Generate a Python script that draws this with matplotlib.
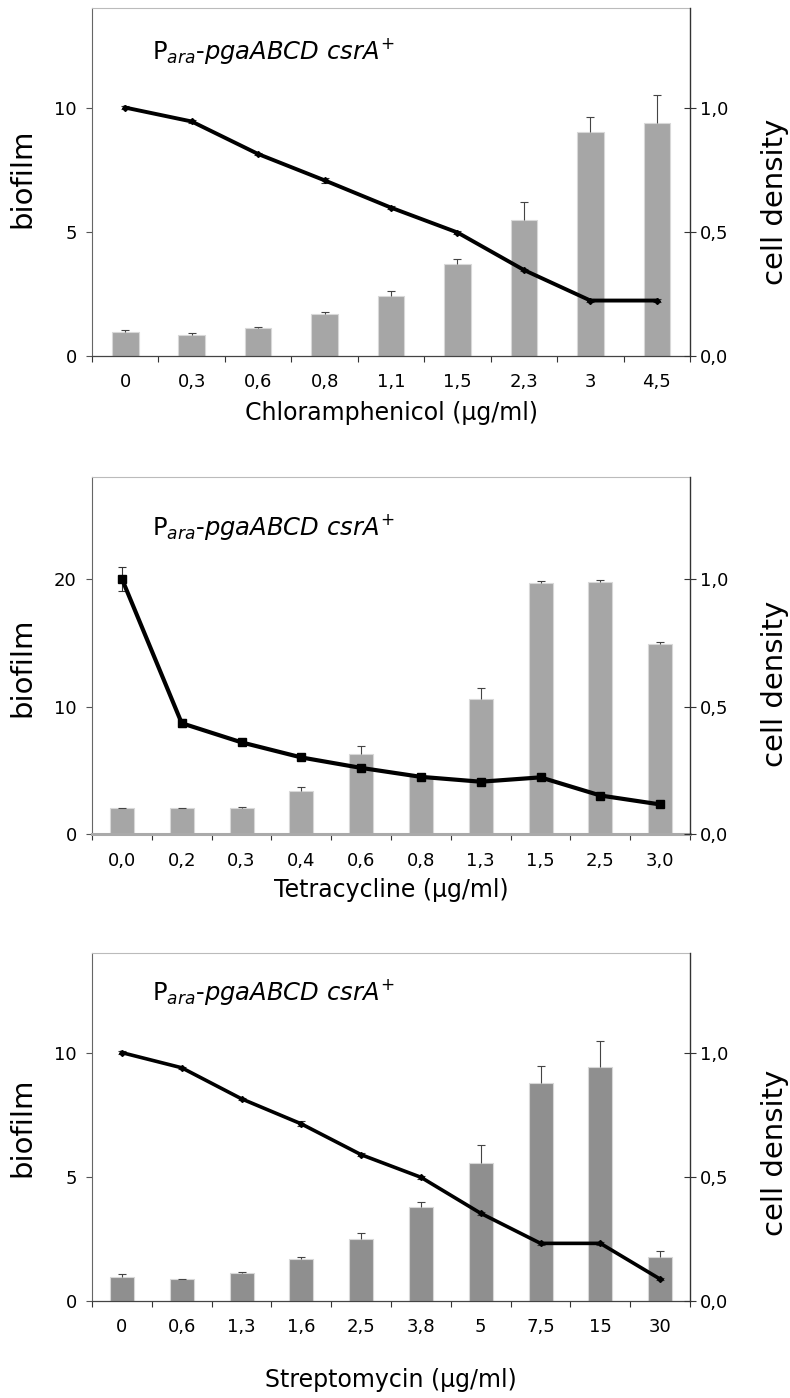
import matplotlib
matplotlib.use('Agg')
import matplotlib.pyplot as plt
import numpy as np

plt.rcParams['font.family'] = 'DejaVu Sans'
plt.rcParams['mathtext.fontset'] = 'dejavusans'

# panel 1 - chloramphenicol
chl_labels = ['0', '0,3', '0,6', '0,8', '1,1', '1,5', '2,3', '3', '4,5']
chl_biofilm = [0.95, 0.84, 1.13, 1.69, 2.41, 3.70, 5.48, 9.03, 9.37]
chl_biofilm_err = [0.08, 0.07, 0.02, 0.07, 0.20, 0.21, 0.73, 0.61, 1.13]
chl_density = [1.0, 0.944, 0.813, 0.707, 0.597, 0.497, 0.346, 0.223, 0.223]
chl_density_err = [0.005, 0.005, 0.005, 0.01, 0.005, 0.005, 0.005, 0.005, 0.005]

# panel 2 - tetracycline
tet_labels = ['0,0', '0,2', '0,3', '0,4', '0,6', '0,8', '1,3', '1,5', '2,5', '3,0']
tet_biofilm = [2.05, 2.05, 2.05, 3.41, 6.30, 4.6, 10.63, 19.69, 19.79, 14.88]
tet_biofilm_err = [0.03, 0.03, 0.1, 0.29, 0.58, 0.1, 0.79, 0.15, 0.13, 0.21]
tet_density = [1.0, 0.435, 0.360, 0.301, 0.26, 0.225, 0.206, 0.223, 0.152, 0.117]
tet_density_err = [0.048, 0.016, 0.01, 0.008, 0.006, 0.005, 0.005, 0.005, 0.005, 0.005]

# panel 3 - streptomycin
str_labels = ['0', '0,6', '1,3', '1,6', '2,5', '3,8', '5', '7,5', '15', '30']
str_biofilm = [0.97, 0.87, 1.13, 1.70, 2.48, 3.80, 5.55, 8.77, 9.43, 1.76]
str_biofilm_err = [0.11, 0.02, 0.05, 0.06, 0.25, 0.18, 0.75, 0.69, 1.04, 0.27]
str_density = [1.0, 0.939, 0.814, 0.713, 0.589, 0.498, 0.353, 0.232, 0.232, 0.088]
str_density_err = [0.005, 0.005, 0.005, 0.01, 0.005, 0.005, 0.005, 0.005, 0.005, 0.005]

title = r'P$_{\mathit{ara}}$-$\mathit{pgaABCD\ csrA}^{+}$'

fig = plt.figure(figsize=(7.9, 13.98), dpi=100)


def panel(rect, labels, bio, bio_err, dens, dens_err, ymax, yticks, xlabel,
          bar_color, marker, msize, lw, title_y, xlabel_y, ylab_y, dens_lab_y,
          zero_gray=False):
    ax = fig.add_axes(rect)
    x = np.arange(len(labels))
    ax.bar(x, bio, width=0.4, color=bar_color, edgecolor='#d8d8d8',
           linewidth=0.8, zorder=2)
    eb = ax.errorbar(x, bio, yerr=[np.zeros(len(bio)), bio_err], fmt='none',
                     ecolor='#444444', elinewidth=0.8, capsize=3, capthick=0.8,
                     zorder=3)
    eb[1][0].set_visible(False)
    ax.set_xlim(-0.5, len(labels) - 0.5)
    ax.set_ylim(0, ymax)
    ax.set_yticks(yticks)
    ax.set_yticklabels([str(t) for t in yticks])
    ax.set_xticks(x)
    ax.set_xticklabels(labels)
    ax.set_xticks(np.arange(len(labels) + 1) - 0.5, minor=True)
    ax.tick_params(axis='x', which='major', length=0, pad=12.5, labelsize=13)
    ax.tick_params(axis='x', which='minor', length=4.5, width=0.8,
                   color='#333333', direction='out')
    ax.tick_params(axis='y', length=4, width=0.8, color='#555555', pad=7,
                   labelsize=13)
    ax.spines['top'].set_color('#bbbbbb')
    ax.spines['top'].set_linewidth(0.8)
    ax.spines['left'].set_color('#666666')
    ax.spines['left'].set_linewidth(0.8)
    ax.spines['right'].set_visible(False)
    if zero_gray:
        ax.spines['bottom'].set_color('#aaaaaa')
        ax.spines['bottom'].set_linewidth(2.2)
    else:
        ax.spines['bottom'].set_color('#444444')
        ax.spines['bottom'].set_linewidth(0.9)

    ax2 = ax.twinx()
    ax2.errorbar(x, dens, yerr=dens_err, color='black', lw=lw, marker=marker,
                 ms=msize, ecolor='#333333', elinewidth=0.8, capsize=3,
                 capthick=0.8, zorder=4)
    ax2.set_ylim(0, ymax / yticks[2])
    ax2.set_yticks([0, 0.5, 1.0])
    ax2.set_yticklabels(['0,0', '0,5', '1,0'])
    ax2.tick_params(axis='y', direction='inout', length=8, width=0.8,
                    color='#333333', pad=3, labelsize=13)
    ax2.spines['right'].set_color('#333333')
    ax2.spines['right'].set_linewidth(1.0)
    for s in ['top', 'left', 'bottom']:
        ax2.spines[s].set_visible(False)

    ax.text(0.1, title_y, title, transform=ax.transAxes, fontsize=17.5,
            ha='left', va='baseline')
    ax.text(0.5, xlabel_y, xlabel, transform=ax.transAxes, fontsize=17,
            ha='center', va='center')
    ax.text(-0.117, ylab_y, 'biofilm', transform=ax.transAxes, fontsize=21,
            rotation=90, ha='center', va='center')
    ax.text(1.142, dens_lab_y, 'cell density', transform=ax.transAxes,
            fontsize=21, rotation=90, ha='center', va='center')
    return ax


panel([0.1165, 0.7454, 0.757, 0.2487], chl_labels, chl_biofilm, chl_biofilm_err,
      chl_density, chl_density_err, 14, [0, 5, 10], 'Chloramphenicol (µg/ml)',
      '#a6a6a6', 'D', 3, 2.8, 0.853, -0.165, 0.51, 0.444)
panel([0.1165, 0.4032, 0.757, 0.2558], tet_labels, tet_biofilm, tet_biofilm_err,
      tet_density, tet_density_err, 28, [0, 10, 20], 'Tetracycline (µg/ml)',
      '#a6a6a6', 's', 6, 3.0, 0.837, -0.155, 0.468, 0.42, zero_gray=True)
panel([0.1165, 0.0694, 0.757, 0.2487], str_labels, str_biofilm, str_biofilm_err,
      str_density, str_density_err, 14, [0, 5, 10], 'Streptomycin (µg/ml)',
      '#8f8f8f', 'D', 3, 2.6, 0.866, -0.227, 0.5, 0.426)

fig.savefig('out.png', dpi=100)
